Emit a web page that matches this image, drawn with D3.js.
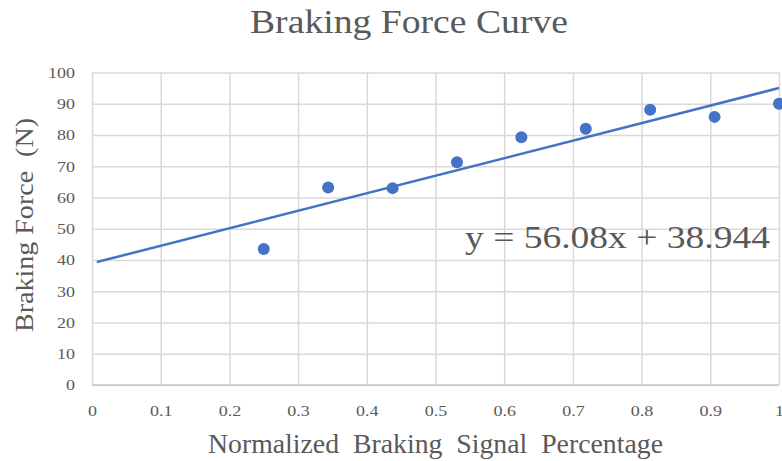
<!DOCTYPE html>
<html>
<head>
<meta charset="utf-8">
<script src="https://cdn.jsdelivr.net/npm/d3@7"></script>
<style>
  html, body { margin: 0; padding: 0; background: #fff; }
  svg { display: block; }
  text { font-family: "Liberation Serif", "Times New Roman", serif; fill: #595959; }
</style>
</head>
<body>
<svg id="chart" width="782" height="461"></svg>
<script>
// Measured braking force against normalized braking signal
const signal = [0.25, 0.34375, 0.4375, 0.53125, 0.625, 0.71875, 0.8125, 0.90625, 1.0];
const force = [43.5, 63.2, 63.0, 71.3, 79.3, 82.0, 88.1, 85.8, 90.0];

// Linear trendline fitted to the measurements
const trendSlope = 56.08;
const trendIntercept = 38.944;
const trendRange = [0.007, 1.0];

const xTicks = [0, 0.1, 0.2, 0.3, 0.4, 0.5, 0.6, 0.7, 0.8, 0.9, 1];
const yTicks = [0, 10, 20, 30, 40, 50, 60, 70, 80, 90, 100];

const chartTitle = "Braking Force Curve";
const xTitle = "Normalized  Braking  Signal  Percentage";
const yTitle = "Braking Force  (N)";
const equationLabel = `y = ${trendSlope}x + ${trendIntercept}`;

const svg = d3.select("#chart");
const plot = { left: 92, right: 779, top: 72.5, bottom: 385 };

const x = d3.scaleLinear().domain([0, 1]).range([plot.left, plot.right]);
const y = d3.scaleLinear().domain([0, 100]).range([plot.bottom, plot.top]);

const gridColor = "#d9d9d9";
const markColor = "#4472C4";

// Gridlines
const yGrid = svg.append("g")
  .attr("transform", `translate(${plot.left},0)`)
  .call(d3.axisLeft(y).tickValues(yTicks).tickSize(-(plot.right - plot.left)).tickFormat(""));
yGrid.select(".domain").remove();
yGrid.selectAll("line").attr("stroke", gridColor).attr("stroke-width", 1.5);

const xGrid = svg.append("g")
  .attr("transform", `translate(0,${plot.bottom})`)
  .call(d3.axisBottom(x).tickValues(xTicks).tickSize(-(plot.bottom - plot.top)).tickFormat(""));
xGrid.select(".domain").remove();
xGrid.selectAll("line").attr("stroke", gridColor).attr("stroke-width", 1.5);

// Bottom axis line
svg.append("line")
  .attr("x1", x(0)).attr("x2", x(1))
  .attr("y1", y(0)).attr("y2", y(0))
  .attr("stroke", "#c8c8c8").attr("stroke-width", 1.5);

// Tick labels (slightly widened serif digits)
const stretch = 1.2;
const yAxis = svg.append("g")
  .attr("transform", `translate(${plot.left},0)`)
  .call(d3.axisLeft(y).tickValues(yTicks).tickSize(0).tickPadding(0).tickFormat(d3.format("d")));
yAxis.select(".domain").remove();
yAxis.selectAll("text")
  .attr("x", -17 / stretch)
  .attr("transform", `scale(${stretch},1)`)
  .style("font-size", "15px")
  .attr("fill", "#595959");

const xAxis = svg.append("g")
  .attr("transform", `translate(0,${plot.bottom})`)
  .call(d3.axisBottom(x).tickValues(xTicks).tickSize(0).tickPadding(0).tickFormat(d => d === 0 || d === 1 ? d3.format("d")(d) : d3.format(".1f")(d)));
xAxis.select(".domain").remove();
xAxis.selectAll("text")
  .attr("y", 31).attr("dy", null)
  .attr("transform", `scale(${stretch},1)`)
  .style("font-size", "15px")
  .attr("fill", "#595959");

// Trendline
const trendLine = d3.line()
  .x(d => x(d))
  .y(d => y(trendSlope * d + trendIntercept));
svg.append("path")
  .datum(trendRange)
  .attr("d", trendLine)
  .attr("fill", "none")
  .attr("stroke", markColor)
  .attr("stroke-width", 2.5);

// Data points
svg.append("g")
  .selectAll("circle")
  .data(signal.map((s, i) => ({ s, f: force[i] })))
  .join("circle")
  .attr("cx", d => x(d.s))
  .attr("cy", d => y(d.f))
  .attr("r", 6)
  .attr("fill", markColor);

// Titles
svg.append("text")
  .attr("x", 250).attr("y", 33)
  .attr("textLength", 318).attr("lengthAdjust", "spacingAndGlyphs")
  .style("font-size", "34px")
  .text(chartTitle);

svg.append("text")
  .attr("x", 208).attr("y", 453)
  .attr("textLength", 455).attr("lengthAdjust", "spacingAndGlyphs")
  .style("font-size", "27px")
  .style("white-space", "pre")
  .text(xTitle);

svg.append("text")
  .attr("transform", "translate(33,332) rotate(-90)")
  .attr("textLength", 214).attr("lengthAdjust", "spacingAndGlyphs")
  .style("font-size", "26px")
  .style("white-space", "pre")
  .text(yTitle);

// Trendline equation
svg.append("text")
  .attr("x", 465).attr("y", 248)
  .attr("textLength", 305).attr("lengthAdjust", "spacingAndGlyphs")
  .style("font-size", "31px")
  .text(equationLabel);
</script>
</body>
</html>
